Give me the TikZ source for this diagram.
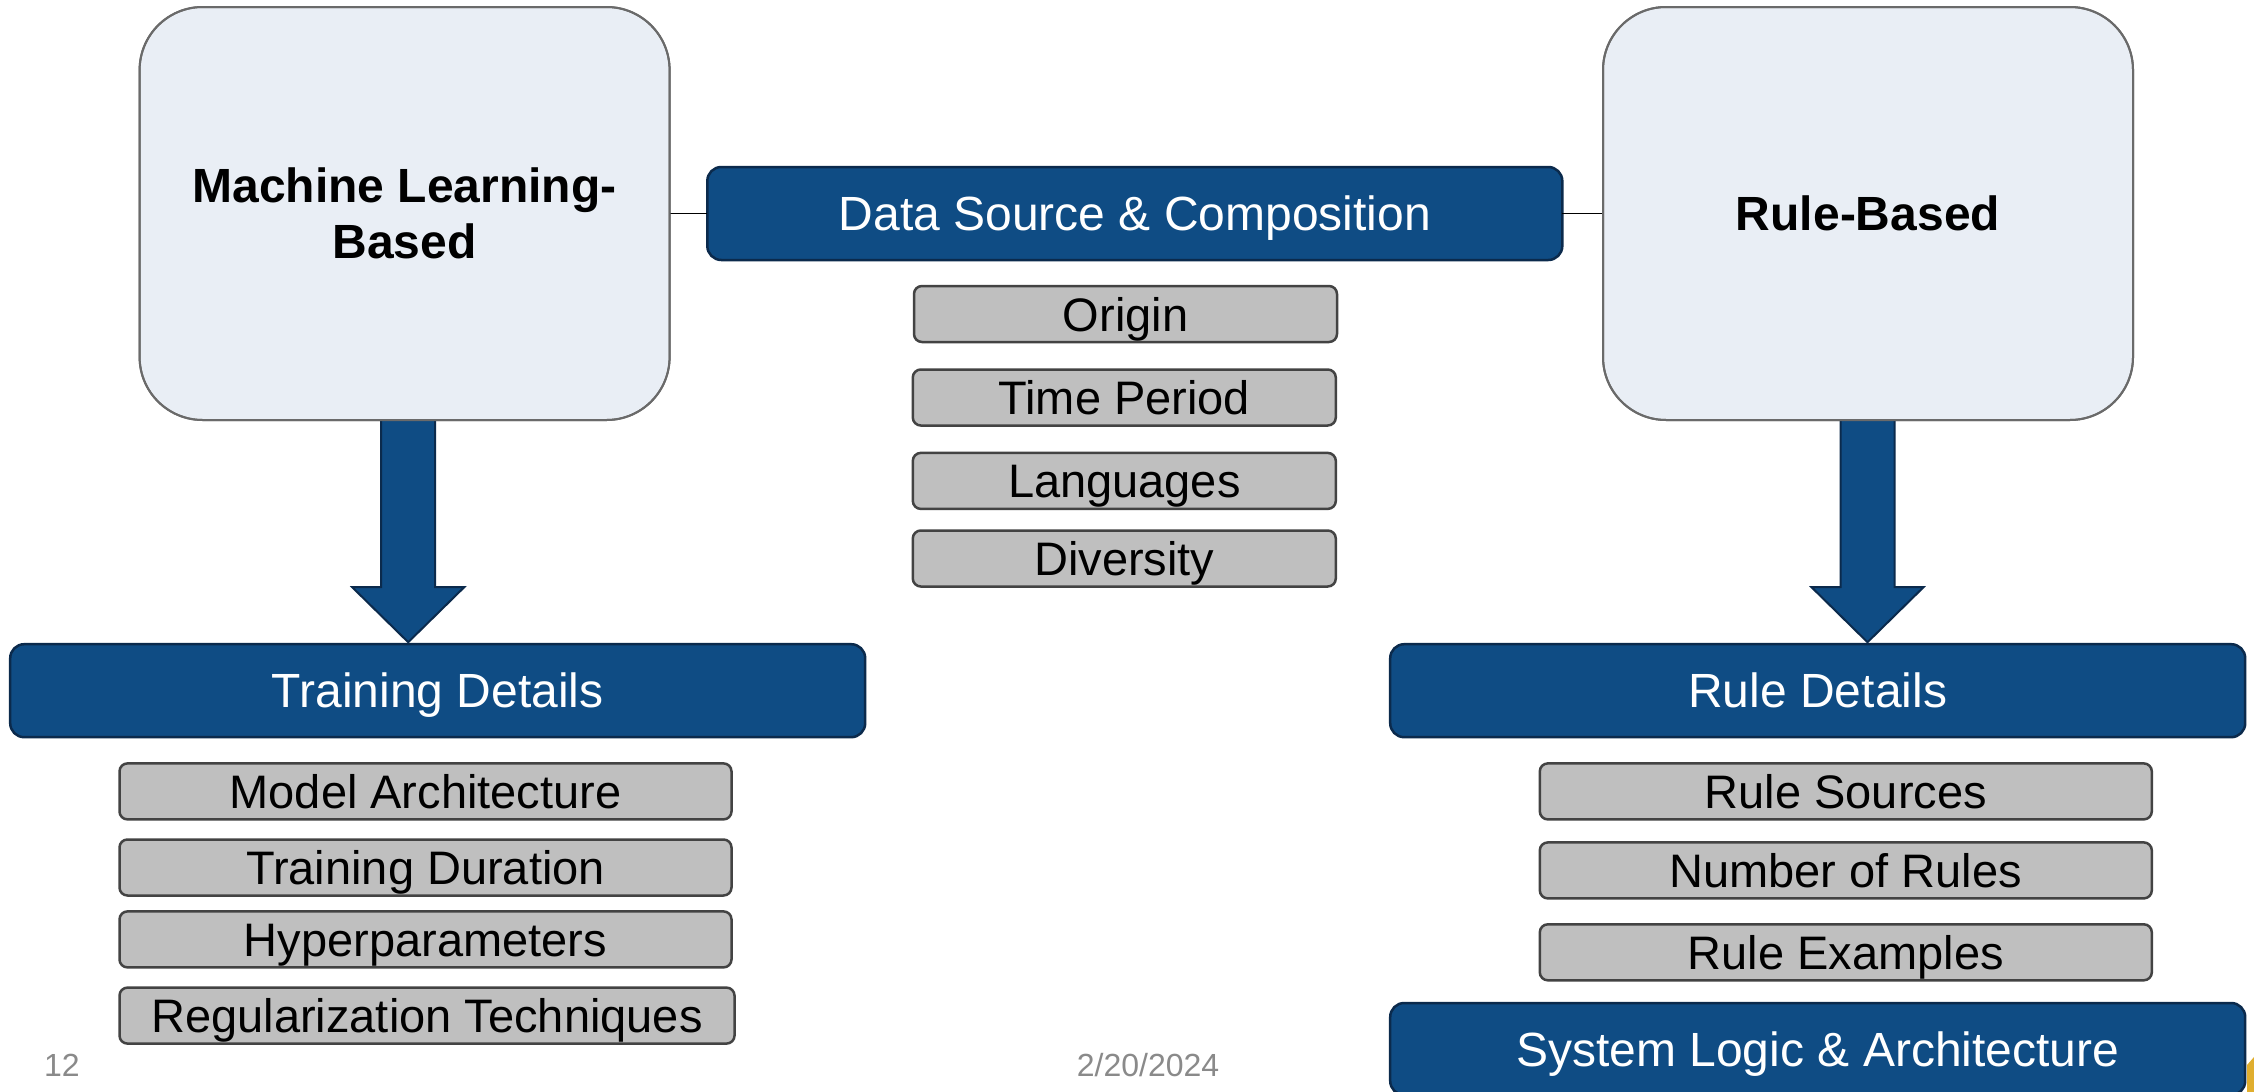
\documentclass[tikz,border=0pt]{standalone}
\usepackage{fontspec}
\setmainfont{Liberation Sans}
\usetikzlibrary{calc}

\definecolor{panelfill}{HTML}{E9EEF5}
\definecolor{paneledge}{HTML}{6A6A6A}
\definecolor{navy}{HTML}{0F4C84}
\definecolor{navyedge}{HTML}{0B2A4C}
\definecolor{itemfill}{HTML}{BFBFBF}
\definecolor{itemedge}{HTML}{434343}
\definecolor{footgray}{HTML}{8A8A8A}
\definecolor{gold}{HTML}{E0AE2E}

\tikzset{
  panel/.style={draw=paneledge, fill=panelfill, line width=2pt, rounded corners=63pt,
    inner sep=0pt, outer sep=0pt, align=center,
    font=\fontsize{48}{56}\selectfont\bfseries},
  headbar/.style={draw=navyedge, fill=navy, line width=2.5pt, rounded corners=14pt,
    inner sep=0pt, outer sep=0pt, minimum width=855pt, minimum height=93pt,
    text=white, text height=34pt, text depth=0pt, font=\fontsize{48}{56}\selectfont},
  item/.style={draw=itemedge, fill=itemfill, line width=2.5pt, rounded corners=8pt,
    inner sep=0pt, outer sep=0pt, minimum height=56pt,
    text height=34pt, text depth=0pt, font=\fontsize{47}{54}\selectfont},
  link/.style={draw=black, line width=1.5pt},
  fatarrow/.style={fill=navy, draw=navyedge, line width=2pt, line join=miter},
  footer/.style={text=footgray, inner sep=0pt, font=\fontsize{32}{38}\selectfont}
}

\begin{document}
\begin{tikzpicture}[x=1pt,y=-1pt]
  \useasboundingbox (0,0) rectangle (2254,1092);
  \fill[white] (0,0) rectangle (2254,1092);

  % top-level approaches
  \node[panel, minimum width=530pt, minimum height=413pt] (ml) at (404.6,213.5)
    {Machine Learning-\\Based};
  \node[panel, minimum width=530pt, minimum height=413pt] (rb) at (1868,213.5)
    {Rule-Based};

  % shared data section
  \node[headbar] (ds) at (1134.8,213.5) {Data Source \& Composition};
  \node[item, minimum width=423pt] (origin) at (1125.5,314) {Origin};
  \node[item, minimum width=423pt] (period) at (1124.3,397.5) {Time Period};
  \node[item, minimum width=423pt] (lang)   at (1124.3,480.9) {Languages};
  \node[item, minimum width=423pt] (div)    at (1124.3,558.5) {Diversity};

  % detail headers
  \node[headbar] (td) at (437.7,690.7) {Training Details};
  \node[headbar] (rd) at (1817.7,690.7) {Rule Details};

  % training details
  \node[item, minimum width=612pt] (arch)  at (425.5,791.4)  {Model Architecture};
  \node[item, minimum width=612pt] (dur)   at (425.5,867.5)  {Training Duration};
  \node[item, minimum width=612pt] (hyper) at (425.5,939.4)  {Hyperparameters};
  \node[item, minimum width=615pt] (reg)   at (427,1015.6)   {Regularization Techniques};

  % rule details
  \node[item, minimum width=612pt] (src)   at (1845.8,791.4) {Rule Sources};
  \node[item, minimum width=612pt] (nrule) at (1845.8,870.4) {Number of Rules};
  \node[item, minimum width=612pt] (rex)   at (1845.8,952.3) {Rule Examples};
  \node[headbar, minimum height=92pt] (sys) at (1817.7,1049) {System Logic \& Architecture};

  % connectors between the approaches and the data section
  \draw[link] (ml.east) -- (ds.west);
  \draw[link] (ds.east) -- (rb.west);

  % block arrows down to the detail headers (\dx shifts the arrow off the panel centre)
  \foreach \src/\dst/\dx in {ml/td/3.6, rb/rd/-0.5}{
    \coordinate (top) at ($(\src.south)+(\dx,0)$);
    \coordinate (tip) at ($(top |- \dst.north)+(0,-2)$);
    \draw[fatarrow] ($(top)+(-27,0)$) -- ($(tip)+(-27,-55)$) -- ($(tip)+(-56,-55)$)
      -- (tip) -- ($(tip)+(56,-55)$) -- ($(tip)+(27,-55)$) -- ($(top)+(27,0)$);
  }
  % redraw panel outlines over the arrow shafts
  \draw[paneledge, line width=2pt, rounded corners=63pt] (ml.south west) rectangle (ml.north east);
  \draw[paneledge, line width=2pt, rounded corners=63pt] (rb.south west) rectangle (rb.north east);

  % footer
  \node[footer] (pageno) at (62,1065) {12};
  \node[footer] (date) at (1148,1065) {2/20/2024};
  \fill[gold] (2247,1065) -- (2254,1057) -- (2254,1092) -- (2247,1092) -- cycle;
\end{tikzpicture}
\end{document}
